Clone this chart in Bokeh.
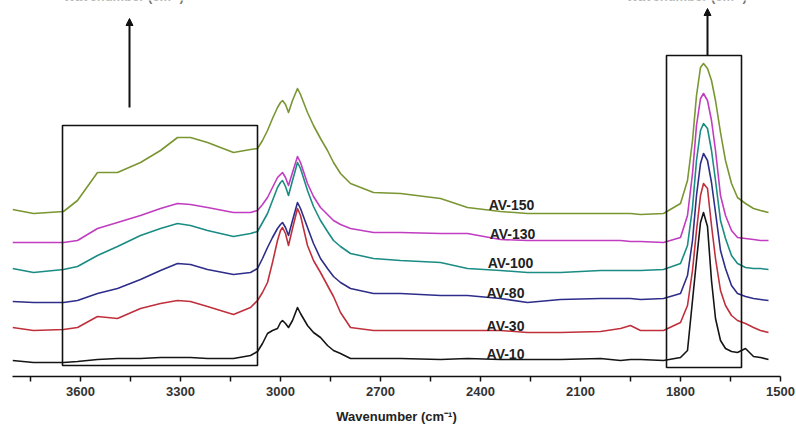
from bokeh.plotting import figure
from bokeh.models import Range1d, FixedTicker, Arrow, NormalHead
from bokeh.core.properties import value
from bokeh.embed import file_html
from bokeh.resources import INLINE

# Wavenumber grid (cm-1)
wavenumber = [3804, 3741, 3651, 3609, 3549, 3489, 3420, 3360, 3309, 3270, 3219, 3141, 3090, 3069,
              3054, 3039, 3024, 3009, 3000, 2994, 2985, 2976, 2964, 2949, 2940, 2919, 2901, 2880,
              2859, 2841, 2820, 2790,
              2721, 2640, 2520, 2439, 2340, 2259, 2160, 2040, 1980, 1950, 1920, 1851,
              1800, 1779, 1764, 1752, 1740, 1731, 1719, 1707, 1695, 1680, 1665, 1647, 1629, 1605,
              1581, 1560, 1536]

# Stacked intensities (a.u.)
av10 = [16, 14, 14, 15, 17, 18, 18, 19, 19, 19, 18, 18, 21, 25,
        33, 43, 46, 48, 54, 56, 53, 49, 56, 69, 63, 51, 44, 39, 31, 26, 23, 18,
        18, 18, 17, 18, 17, 17, 17, 18, 16, 17, 17, 16,
        19, 26, 76, 116, 154, 164, 150, 96, 58, 36, 28, 25, 24, 28, 20, 19, 17]
av30 = [49, 46, 47, 49, 60, 58, 68, 73, 76, 75, 70, 62, 69, 76,
        84, 94, 114, 136, 146, 149, 143, 131, 148, 168, 161, 131, 116, 104, 91, 80, 64, 49,
        46, 46, 46, 46, 46, 44, 44, 45, 48, 51, 46, 46,
        54, 71, 106, 146, 181, 193, 188, 151, 118, 86, 71, 61, 56, 53, 49, 46, 44]
av80 = [75, 74, 74, 76, 83, 88, 97, 106, 113, 112, 107, 102, 104, 108,
        118, 129, 139, 148, 152, 154, 149, 141, 156, 174, 168, 149, 133, 118, 108, 100, 94, 88,
        83, 83, 81, 81, 78, 74, 77, 78, 78, 78, 77, 78,
        83, 101, 136, 181, 213, 223, 216, 194, 164, 126, 108, 91, 83, 80, 78, 77, 76]
av100 = [108, 104, 107, 110, 121, 130, 141, 148, 153, 151, 146, 140, 143, 145,
         154, 163, 176, 189, 194, 196, 190, 181, 196, 214, 208, 186, 170, 156, 145, 136, 130, 123,
         118, 116, 114, 108, 106, 104, 104, 106, 106, 106, 106, 107,
         113, 131, 169, 216, 246, 253, 248, 226, 196, 156, 138, 121, 113, 109, 108, 108, 107]
av130 = [134, 134, 134, 136, 148, 154, 161, 168, 173, 172, 169, 164, 164, 166,
         172, 179, 189, 199, 202, 204, 199, 191, 204, 220, 214, 193, 180, 169, 162, 156, 152, 148,
         144, 144, 143, 143, 137, 136, 136, 136, 136, 135, 135, 134,
         139, 161, 203, 251, 278, 283, 276, 256, 226, 181, 161, 146, 139, 138, 137, 136, 136]
av150 = [167, 163, 165, 176, 204, 204, 214, 226, 239, 239, 234, 224, 227, 228,
         236, 246, 258, 269, 274, 276, 272, 264, 276, 288, 282, 264, 251, 238, 226, 214, 203, 193,
         184, 183, 178, 169, 165, 163, 163, 163, 163, 163, 162, 163,
         173, 196, 236, 281, 309, 313, 308, 296, 276, 244, 216, 193, 179, 173, 168, 166, 164]

series_names = ["AV-10", "AV-30", "AV-80", "AV-100", "AV-130", "AV-150"]
series_values = [av10, av30, av80, av100, av130, av150]
series_colors = ["#151515", "#c0303c", "#2e2e8a", "#1a8c84", "#c03cc0", "#7a9632"]

label_x = [2325, 2325, 2325, 2310, 2304, 2307]
label_y = [23, 51, 84, 114, 143, 172]

major_ticks = [3600, 3300, 3000, 2700, 2400, 2100, 1800, 1500]
minor_ticks = [3750, 3450, 3150, 2850, 2550, 2250, 1950, 1650]

# highlighted regions
box_left = [3654, 1842]
box_right = [3069, 1617]
box_top = [251, 321]
box_bottom = [11, 9]
arrow_x = [3453, 1719]
arrow_start = [269, 321]
arrow_end = [358, 368]
top_text_x = [3471, 1782]
top_text_y = [380, 380]

p = figure(width=796, height=429, output_backend="svg", toolbar_location=None,
           x_range=Range1d(3804, 1500), y_range=Range1d(0, 376),
           min_border_left=12, min_border_right=16, min_border_top=0, min_border_bottom=53,
           y_axis_location=None)
p.outline_line_color = None
p.xgrid.visible = False
p.ygrid.visible = False
p.background_fill_color = "white"
p.border_fill_color = "white"

for vals, col in zip(series_values, series_colors):
    p.line(wavenumber, vals, line_color=col, line_width=1.6, line_join="round")

p.text(x=label_x, y=label_y, text=series_names, text_align="center", text_baseline="middle",
       text_font=value("Liberation Sans"), text_font_size="14px", text_font_style="bold",
       text_color="#222222")

p.quad(left=box_left, right=box_right, top=box_top, bottom=box_bottom,
       fill_alpha=0, line_color="#111111", line_width=1.6)

for ax, s, e in zip(arrow_x, arrow_start, arrow_end):
    p.add_layout(Arrow(end=NormalHead(size=7, fill_color="#111111", line_color="#111111"),
                       x_start=ax, y_start=s, x_end=ax, y_end=e,
                       line_color="#111111", line_width=2))

p.text(x=top_text_x, y=top_text_y, text=["Wavenumber (cm\u207b\u00b9)"] * 2, text_align="center",
       text_baseline="alphabetic", text_font=value("Liberation Sans"), text_font_size="13px",
       text_font_style="bold", text_color="#777777")

ax = p.xaxis[0]
ax.ticker = FixedTicker(ticks=major_ticks, minor_ticks=minor_ticks)
ax.axis_label = "Wavenumber (cm\u207b\u00b9)"
ax.axis_label_text_font = "Liberation Sans"
ax.axis_label_text_font_size = "13px"
ax.axis_label_text_font_style = "bold"
ax.axis_label_text_color = "#222222"
ax.axis_label_standoff = 10
ax.major_label_text_font = "Liberation Sans"
ax.major_label_text_font_size = "13px"
ax.major_label_text_font_style = "bold"
ax.major_label_text_color = "#333333"
ax.major_label_standoff = 5
ax.axis_line_color = "#111111"
ax.axis_line_width = 1.5
ax.major_tick_line_color = "#111111"
ax.minor_tick_line_color = "#111111"
ax.major_tick_line_width = 1.5
ax.minor_tick_line_width = 1.5
ax.major_tick_in = 0
ax.major_tick_out = 5
ax.minor_tick_in = 0
ax.minor_tick_out = 5

open("out.html", "w").write(file_html(p, INLINE))
